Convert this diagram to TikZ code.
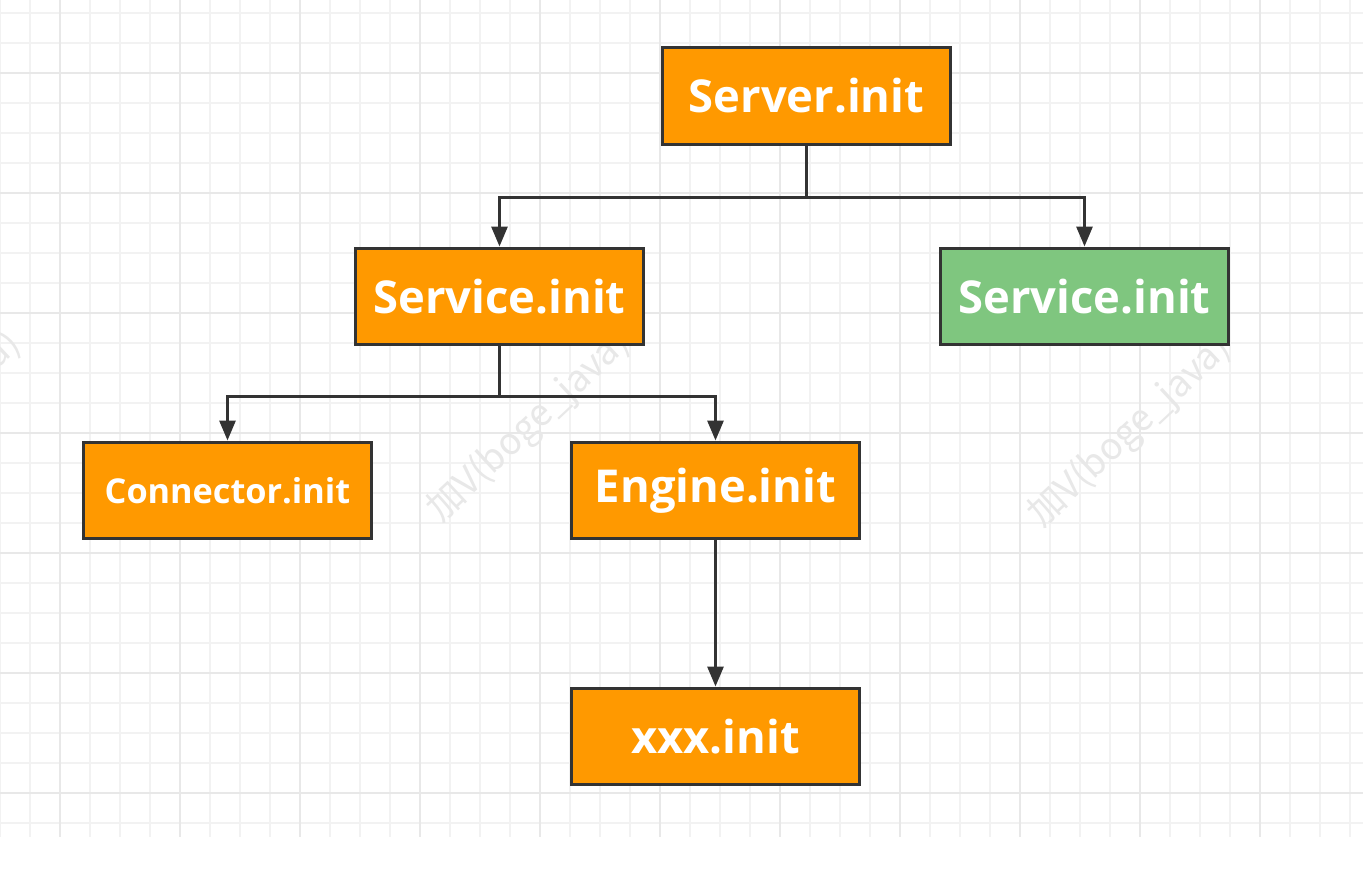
\documentclass[tikz,border=0pt]{standalone}
\usepackage{fontspec}
\usepackage{xcolor}
\usetikzlibrary{arrows.meta}
\setmainfont{Open Sans}
\newfontfamily\cjkfont{Noto Sans CJK SC}
\definecolor{boxorange}{HTML}{FF9900}
\definecolor{boxgreen}{HTML}{7FC67F}
\definecolor{edgegray}{HTML}{333333}
\tikzset{
  initbox/.style={draw=edgegray, line width=0.06cm, fill=boxorange, text=white,
    minimum width=5.76cm, minimum height=1.94cm, inner sep=0pt,
    font=\fontsize{25.8}{30}\selectfont\bfseries},
  minorgrid/.style={draw=black!5, line width=0.03cm},
  majorgrid/.style={draw=black!9, line width=0.04cm},
  wmark/.style={text=black!9, font=\cjkfont\fontsize{21}{24}\selectfont, rotate=43},
  arr/.style={draw=edgegray, line width=0.06cm, -{Triangle[length=0.4cm, width=0.32cm]}}
}
\begin{document}
\begin{tikzpicture}[x=0.02cm, y=-0.02cm]
\useasboundingbox (0,0) rectangle (1363,872);
\fill[white] (0,0) rectangle (1363,872);
\foreach \gx in {0,30,...,1362} \draw[minorgrid] (\gx,0) -- (\gx,837);
\foreach \gy in {13,43,...,823} \draw[minorgrid] (0,\gy) -- (1363,\gy);
\foreach \gx in {60,180,...,1362} \draw[majorgrid] (\gx,0) -- (\gx,837);
\foreach \gy in {73,193,...,823} \draw[majorgrid] (0,\gy) -- (1363,\gy);
\node[wmark] (wmL) at (-80,428) {加V(boge\_java)};
\node[wmark] (wmM) at (529,427) {加V(boge\_java)};
\node[wmark] (wmR) at (1130,432) {加V(boge\_java)};
\node[initbox] (srv) at (806.5,96) {Server.init};
\node[initbox] (svcA) at (499.5,296.5) {Service.init};
\node[initbox, fill=boxgreen] (svcB) at (1084.5,296.5) {Service.init};
\node[initbox, font=\fontsize{19.5}{24}\selectfont\bfseries] (conn) at (227.5,490.5) {Connector.init};
\node[initbox] (eng) at (715.5,490.5) {Engine.init};
\node[initbox] (xxx) at (715.5,736.5) {xxx.init};
\draw[arr] (srv.south) -- ++(0,52) -| (svcA.north);
\draw[arr] (srv.south) -- ++(0,52) -| (svcB.north);
\draw[arr] (svcA.south) -- ++(0,50) -| (conn.north);
\draw[arr] (svcA.south) -- ++(0,50) -| (eng.north);
\draw[arr] (eng.south) -- (xxx.north);
\end{tikzpicture}
\end{document}
